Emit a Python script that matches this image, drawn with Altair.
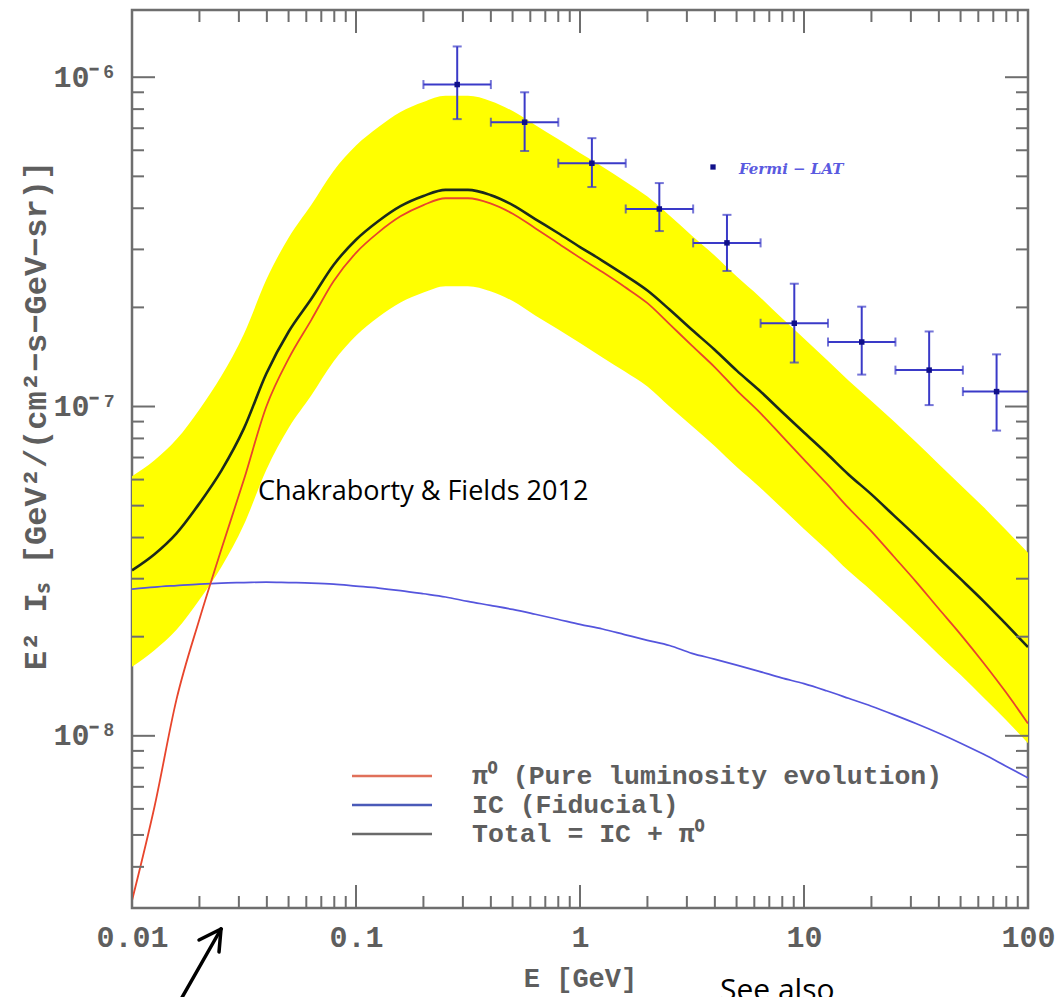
import altair as alt
import pandas as pd

# ---- model curves: E^2 I_s on a log grid in energy [GeV] ----
E_GRID = [0.01, 0.0126, 0.0158, 0.02, 0.0251, 0.0316, 0.0398, 0.0501, 0.0631, 0.0794,
          0.1, 0.126, 0.158, 0.2, 0.251, 0.316, 0.398, 0.501, 0.631, 0.794,
          1.0, 1.26, 1.58, 2.0, 2.51, 3.16, 3.98, 5.01, 6.31, 7.94,
          10.0, 12.6, 15.8, 20.0, 25.1, 31.6, 39.8, 50.1, 63.1, 79.4, 100.0]

TOTAL = [3.18e-8, 3.56e-8, 4.12e-8, 5.08e-8, 6.40e-8, 8.58e-8, 1.26e-7, 1.69e-7, 2.12e-7, 2.69e-7,
         3.21e-7, 3.66e-7, 4.06e-7, 4.36e-7, 4.55e-7, 4.55e-7, 4.39e-7, 4.09e-7, 3.71e-7, 3.37e-7,
         3.05e-7, 2.77e-7, 2.51e-7, 2.25e-7, 1.97e-7, 1.71e-7, 1.49e-7, 1.285e-7, 1.12e-7, 9.66e-8,
         8.34e-8, 7.21e-8, 6.22e-8, 5.41e-8, 4.68e-8, 4.04e-8, 3.47e-8, 2.99e-8, 2.57e-8, 2.19e-8, 1.86e-8]

PI0 = [3.16e-9, 6.09e-9, 1.29e-8, 2.26e-8, 3.70e-8, 6.00e-8, 1.00e-7, 1.40e-7, 1.83e-7, 2.40e-7,
       2.93e-7, 3.38e-7, 3.78e-7, 4.09e-7, 4.29e-7, 4.29e-7, 4.14e-7, 3.85e-7, 3.48e-7, 3.14e-7,
       2.83e-7, 2.56e-7, 2.31e-7, 2.06e-7, 1.78e-7, 1.53e-7, 1.32e-7, 1.12e-7, 9.63e-8, 8.16e-8,
       6.90e-8, 5.84e-8, 4.92e-8, 4.18e-8, 3.51e-8, 2.94e-8, 2.44e-8, 2.03e-8, 1.67e-8, 1.36e-8, 1.09e-8]

IC = [2.79e-8, 2.83e-8, 2.86e-8, 2.89e-8, 2.91e-8, 2.92e-8, 2.93e-8, 2.92e-8, 2.91e-8, 2.89e-8,
      2.85e-8, 2.81e-8, 2.76e-8, 2.70e-8, 2.64e-8, 2.56e-8, 2.49e-8, 2.42e-8, 2.34e-8, 2.26e-8,
      2.18e-8, 2.11e-8, 2.03e-8, 1.95e-8, 1.88e-8, 1.78e-8, 1.71e-8, 1.64e-8, 1.57e-8, 1.50e-8,
      1.44e-8, 1.37e-8, 1.30e-8, 1.23e-8, 1.16e-8, 1.09e-8, 1.02e-8, 9.50e-9, 8.80e-9, 8.10e-9, 7.45e-9]

BAND_HI = [6.14e-8, 6.87e-8, 7.95e-8, 9.80e-8, 1.24e-7, 1.66e-7, 2.43e-7, 3.26e-7, 4.09e-7, 5.19e-7,
           6.20e-7, 7.06e-7, 7.84e-7, 8.41e-7, 8.78e-7, 8.78e-7, 8.47e-7, 7.89e-7, 7.16e-7, 6.50e-7,
           5.89e-7, 5.35e-7, 4.84e-7, 4.34e-7, 3.80e-7, 3.30e-7, 2.88e-7, 2.48e-7, 2.16e-7, 1.86e-7,
           1.61e-7, 1.39e-7, 1.20e-7, 1.04e-7, 9.03e-8, 7.80e-8, 6.70e-8, 5.77e-8, 4.96e-8, 4.23e-8, 3.60e-8]

BAND_LO = [1.62e-8, 1.82e-8, 2.10e-8, 2.59e-8, 3.26e-8, 4.38e-8, 6.43e-8, 8.62e-8, 1.08e-7, 1.37e-7,
           1.64e-7, 1.87e-7, 2.07e-7, 2.22e-7, 2.32e-7, 2.32e-7, 2.24e-7, 2.09e-7, 1.89e-7, 1.72e-7,
           1.56e-7, 1.41e-7, 1.28e-7, 1.15e-7, 1.00e-7, 8.72e-8, 7.60e-8, 6.55e-8, 5.71e-8, 4.93e-8,
           4.25e-8, 3.68e-8, 3.17e-8, 2.76e-8, 2.39e-8, 2.06e-8, 1.77e-8, 1.53e-8, 1.31e-8, 1.12e-8, 9.50e-9]

# ---- Fermi-LAT points ----
FERMI_E = [0.283, 0.566, 1.13, 2.26, 4.53, 9.05, 18.1, 36.2, 72.4]
FERMI_E_LO = [0.2, 0.4, 0.8, 1.6, 3.2, 6.4, 12.8, 25.6, 51.2]
FERMI_E_HI = [0.4, 0.8, 1.6, 3.2, 6.4, 12.8, 25.6, 51.2, 102.4]
FERMI_I = [9.5e-7, 7.3e-7, 5.48e-7, 3.98e-7, 3.14e-7, 1.79e-7, 1.57e-7, 1.29e-7, 1.11e-7]
FERMI_I_LO = [7.46e-7, 5.97e-7, 4.64e-7, 3.41e-7, 2.58e-7, 1.36e-7, 1.25e-7, 1.01e-7, 8.45e-8]
FERMI_I_HI = [1.24e-6, 9.0e-7, 6.53e-7, 4.77e-7, 3.82e-7, 2.36e-7, 2.01e-7, 1.69e-7, 1.44e-7]

# ---- axis ticks ----
X_MAJOR = [0.01, 0.1, 1, 10, 100]
X_MINOR = [m * 10.0 ** d for d in (-2, -1, 0, 1) for m in range(2, 10)]
Y_MAJOR = [1e-8, 1e-7, 1e-6]
Y_MINOR = ([m * 1e-9 for m in range(4, 10)] + [m * 1e-8 for m in range(2, 10)]
           + [m * 1e-7 for m in range(2, 10)])

LEGEND_LABELS = ["π⁰ (Pure luminosity evolution)", "IC (Fiducial)", "Total = IC + π⁰"]
LEGEND_COLORS = ["#e0705a", "#4a5ab8", "#6a6a6a"]

W, H = 896, 898
MONO = "Liberation Mono"
INK = "#5e5e5e"
FRAME = "#6e6e6e"

xs = alt.Scale(type="log", domain=[0.01, 100], nice=False)
ys = alt.Scale(type="log", domain=[3e-9, 1.6e-6], nice=False)

x_axis = alt.Axis(values=X_MAJOR, labelExpr="format(datum.value, '~g')", ticks=False,
                  domain=False, grid=False, labelFlush=False, labelOverlap=False,
                  labelFont=MONO, labelFontSize=30, labelFontWeight="bold", labelColor=INK,
                  labelPadding=14,
                  title="E [GeV]", titleFont=MONO, titleFontSize=27, titleFontWeight="bold",
                  titleColor=INK, titleY=70, titleBaseline="middle")
y_axis = alt.Axis(values=Y_MAJOR,
                  labelExpr="datum.value < 5e-8 ? '10⁻⁸' : datum.value < 5e-7 ? '10⁻⁷' : '10⁻⁶'",
                  ticks=False, domain=False, grid=False, labelFlush=False, labelOverlap=False,
                  labelFont=MONO, labelFontSize=30, labelFontWeight="bold", labelColor=INK,
                  labelPadding=15,
                  title="E²  Iₛ  [GeV²/(cm²−s−GeV−sr)]", titleFont=MONO, titleFontSize=32,
                  titleFontWeight="bold", titleColor=INK, titleX=-97, titleY=405,
                  titleBaseline="middle")


def X(field):
    return alt.X(f"{field}:Q", scale=xs, axis=x_axis)


def Y(field):
    return alt.Y(f"{field}:Q", scale=ys, axis=y_axis)


curves = pd.DataFrame({"E": E_GRID, "total": TOTAL, "pi0": PI0, "ic": IC,
                       "hi": BAND_HI, "lo": BAND_LO})
fermi = pd.DataFrame({"E": FERMI_E, "elo": FERMI_E_LO, "ehi": FERMI_E_HI,
                      "I": FERMI_I, "ilo": FERMI_I_LO, "ihi": FERMI_I_HI})
vcaps = pd.DataFrame({"E": FERMI_E * 2, "I": FERMI_I_LO + FERMI_I_HI})
hcaps = pd.DataFrame({"E": FERMI_E_LO + FERMI_E_HI, "I": FERMI_I * 2})

band = alt.Chart(curves).mark_area(color="#ffff00", opacity=1, clip=True,
                                   interpolate="monotone").encode(x=X("E"), y=Y("lo"), y2="hi")
ic_line = alt.Chart(curves).mark_line(color="#5555dd", strokeWidth=1.7, clip=True,
                                      interpolate="monotone").encode(x=X("E"), y=Y("ic"))
pi0_line = alt.Chart(curves).mark_line(color="#e8452c", strokeWidth=1.8, clip=True,
                                       interpolate="monotone").encode(x=X("E"), y=Y("pi0"))
total_line = alt.Chart(curves).mark_line(color="#1c2a1c", strokeWidth=2.6, clip=True,
                                         interpolate="monotone").encode(x=X("E"), y=Y("total"))

BAR = "#3a3ac8"
vbar = alt.Chart(fermi).mark_rule(color=BAR, strokeWidth=2, clip=True).encode(
    x=X("E"), y=Y("ilo"), y2="ihi")
hbar = alt.Chart(fermi).mark_rule(color=BAR, strokeWidth=2, clip=True).encode(
    x=X("elo"), x2="ehi", y=Y("I"))
vcap = alt.Chart(vcaps).mark_tick(color=BAR, orient="horizontal", size=9, thickness=2,
                                  clip=True).encode(x=X("E"), y=Y("I"))
hcap = alt.Chart(hcaps).mark_tick(color=BAR, orient="vertical", size=9, thickness=2,
                                  clip=True).encode(x=X("E"), y=Y("I"))
dots = alt.Chart(fermi).mark_square(color="#10108a", size=30, opacity=1).encode(
    x=X("E"), y=Y("I"))


def xticks(values, length, top):
    df = pd.DataFrame({"v": values})
    if top:
        yy = dict(y=alt.value(0), y2=alt.value(length))
    else:
        yy = dict(y=alt.value(H), y2=alt.value(H - length))
    return alt.Chart(df).mark_rule(color=FRAME, strokeWidth=2).encode(x=X("v"), **yy)


def yticks(values, length, right):
    df = pd.DataFrame({"v": values})
    if right:
        xx = dict(x=alt.value(W), x2=alt.value(W - length))
    else:
        xx = dict(x=alt.value(0), x2=alt.value(length))
    return alt.Chart(df).mark_rule(color=FRAME, strokeWidth=2).encode(y=Y("v"), **xx)


tick_layers = []
for top in (False, True):
    tick_layers.append(xticks(X_MAJOR, 23, top))
    tick_layers.append(xticks(X_MINOR, 12, top))
for right in (False, True):
    tick_layers.append(yticks(Y_MAJOR, 23, right))
    tick_layers.append(yticks(Y_MINOR, 12, right))

# legend for the model curves
legend_layers = []
for i, (lab, col) in enumerate(zip(LEGEND_LABELS, LEGEND_COLORS)):
    row_y = 766 + i * 29
    legend_layers.append(
        alt.Chart(pd.DataFrame({"t": [lab]})).mark_rule(color=col, strokeWidth=2.5).encode(
            x=alt.value(220), x2=alt.value(300), y=alt.value(row_y)))
    legend_layers.append(
        alt.Chart(pd.DataFrame({"t": [lab]})).mark_text(
            font=MONO, fontSize=26.5, fontWeight="bold", color=INK, align="left",
            baseline="middle").encode(x=alt.value(340), y=alt.value(row_y), text="t:N"))

fermi_key = alt.Chart(pd.DataFrame({"t": ["Fermi − LAT"]})).mark_square(
    color="#10108a", size=28, opacity=1).encode(x=alt.value(581), y=alt.value(157))
fermi_text = alt.Chart(pd.DataFrame({"t": ["Fermi − LAT"]})).mark_text(
    font="DejaVu Serif", fontStyle="italic", fontWeight="bold", fontSize=15,
    color="#5a5ae0", align="left", baseline="middle").encode(
    x=alt.value(607), y=alt.value(159), text="t:N")

# slide annotations
note = alt.Chart(pd.DataFrame({"t": ["Chakraborty & Fields 2012"]})).mark_text(
    font="Open Sans", fontSize=27, color="black", align="left", baseline="alphabetic").encode(
    x=alt.value(126), y=alt.value(490), text="t:N")
see_also = alt.Chart(pd.DataFrame({"t": ["See also"]})).mark_text(
    font="Open Sans", fontSize=30, color="black", align="left", baseline="alphabetic").encode(
    x=alt.value(588), y=alt.value(990), text="t:N")

ARROW = [((44, 998), (89, 919)), ((89, 919), (67, 930)), ((89, 919), (87, 942))]
arrow_layers = [
    alt.Chart(pd.DataFrame({"t": [0]})).mark_rule(
        color="black", strokeWidth=3.5, strokeCap="round").encode(
        x=alt.value(a[0]), y=alt.value(a[1]), x2=alt.value(b[0]), y2=alt.value(b[1]))
    for a, b in ARROW
]

chart = alt.layer(
    band, ic_line, pi0_line, total_line,
    hbar, vbar, hcap, vcap, dots,
    *tick_layers, *legend_layers, fermi_key, fermi_text,
    note, see_also, *arrow_layers,
).properties(
    width=W, height=H,
    autosize=alt.AutoSizeParams(type="none"),
    padding={"left": 132, "top": 10, "right": 33, "bottom": 89},
    background="white",
).configure_view(stroke=FRAME, strokeWidth=2.5)

chart.save("out.html", embed_options={"renderer": "svg", "actions": False})
